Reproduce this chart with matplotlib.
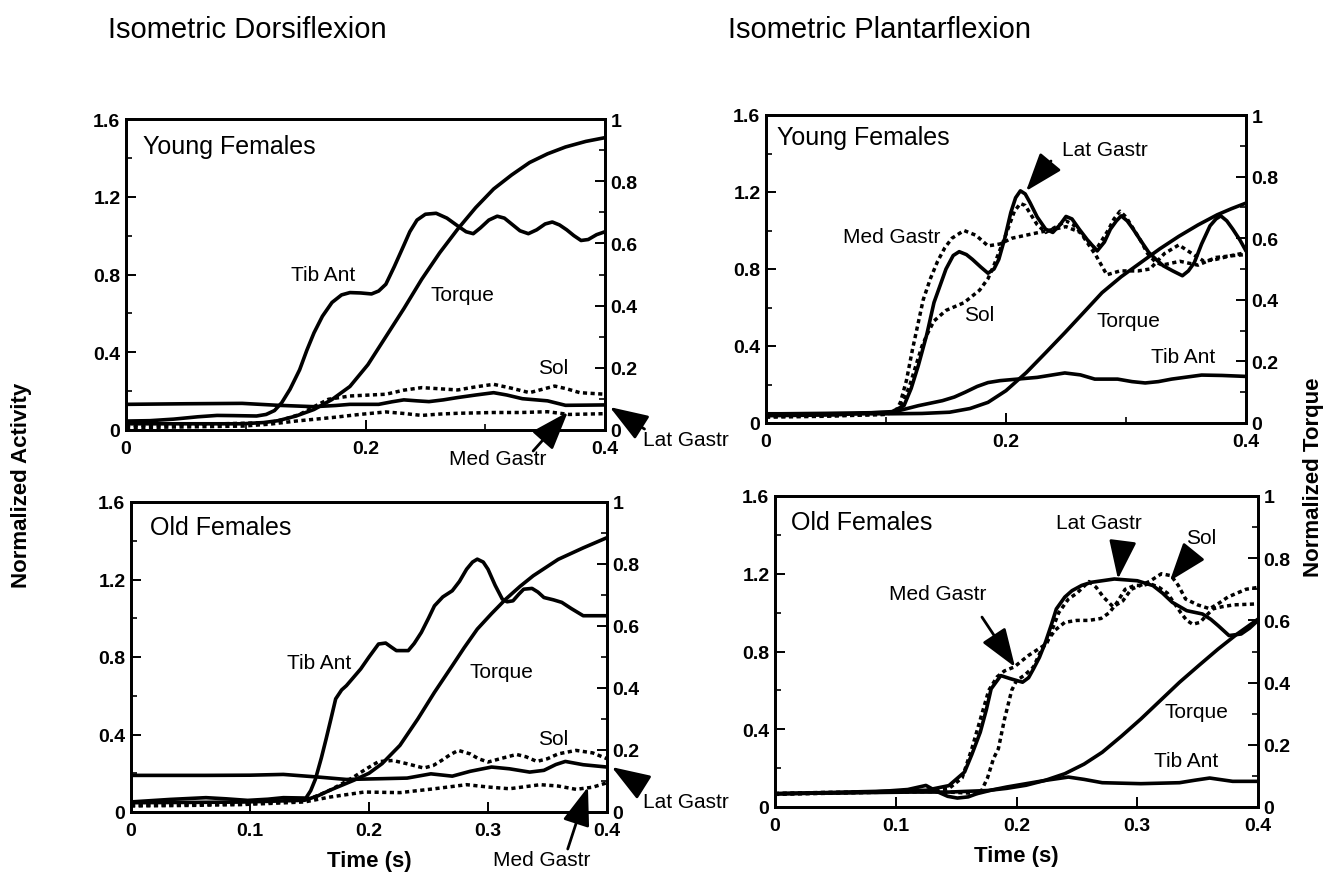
import numpy as np
import matplotlib.pyplot as plt
from matplotlib.ticker import MultipleLocator, FuncFormatter

plt.rcParams['font.family'] = ['Liberation Sans', 'DejaVu Sans']
plt.rcParams['font.weight'] = 'bold'

# values, (time [s], value)
# muscles on the left axis (normalized activity), torque on the right axis

# --- Isometric Dorsiflexion, young females
yd_tib_ant = [(0, 0.046), (0.02, 0.048), (0.04, 0.056), (0.06, 0.068), (0.076, 0.075), (0.09, 0.074),
              (0.109, 0.072), (0.117, 0.08), (0.124, 0.1), (0.13, 0.14), (0.137, 0.21), (0.145, 0.31),
              (0.151, 0.41), (0.157, 0.5), (0.164, 0.585), (0.172, 0.656), (0.18, 0.695), (0.187, 0.707),
              (0.196, 0.705), (0.205, 0.70), (0.211, 0.715), (0.217, 0.75), (0.224, 0.84), (0.232, 0.95),
              (0.237, 1.02), (0.243, 1.08), (0.25, 1.11), (0.259, 1.115), (0.268, 1.09), (0.277, 1.05),
              (0.284, 1.02), (0.29, 1.01), (0.296, 1.04), (0.303, 1.08), (0.31, 1.10), (0.316, 1.09),
              (0.322, 1.06), (0.329, 1.025), (0.336, 1.01), (0.343, 1.03), (0.35, 1.06), (0.356, 1.07),
              (0.362, 1.055), (0.368, 1.03), (0.374, 1.0), (0.38, 0.975), (0.386, 0.98), (0.393, 1.005),
              (0.4, 1.02)]
yd_lat_gastr = [(0, 0.132), (0.05, 0.135), (0.097, 0.137), (0.127, 0.127), (0.157, 0.12), (0.175, 0.126),
                (0.187, 0.132), (0.211, 0.132), (0.222, 0.145), (0.232, 0.155), (0.243, 0.15), (0.253, 0.146),
                (0.265, 0.155), (0.277, 0.167), (0.292, 0.18), (0.307, 0.192), (0.318, 0.18), (0.331, 0.161),
                (0.352, 0.15), (0.367, 0.127), (0.385, 0.128), (0.4, 0.129)]
yd_sol = [(0, 0.024), (0.067, 0.03), (0.12, 0.038), (0.132, 0.055), (0.145, 0.08), (0.157, 0.12),
          (0.169, 0.158), (0.187, 0.175), (0.217, 0.184), (0.232, 0.205), (0.247, 0.218), (0.262, 0.212),
          (0.277, 0.206), (0.292, 0.222), (0.307, 0.235), (0.322, 0.215), (0.337, 0.192), (0.348, 0.21),
          (0.358, 0.226), (0.368, 0.212), (0.379, 0.192), (0.4, 0.184)]
yd_med_gastr = [(0, 0.012), (0.05, 0.016), (0.097, 0.02), (0.12, 0.03), (0.142, 0.046), (0.172, 0.064),
                (0.195, 0.08), (0.217, 0.093), (0.232, 0.085), (0.247, 0.075), (0.262, 0.082), (0.277, 0.086),
                (0.307, 0.09), (0.33, 0.09), (0.352, 0.094), (0.37, 0.08), (0.4, 0.084)]
yd_torque = [(0, 0.02), (0.05, 0.02), (0.097, 0.02), (0.115, 0.024), (0.127, 0.03), (0.142, 0.045),
             (0.157, 0.066), (0.172, 0.098), (0.187, 0.14), (0.202, 0.21), (0.217, 0.30), (0.232, 0.39),
             (0.247, 0.485), (0.262, 0.57), (0.277, 0.646), (0.292, 0.715), (0.307, 0.775), (0.322, 0.82),
             (0.337, 0.86), (0.352, 0.888), (0.367, 0.91), (0.384, 0.928), (0.4, 0.94)]

# --- Isometric Plantarflexion, young females
yp_lat_gastr = [(0, 0.038), (0.057, 0.042), (0.105, 0.059), (0.115, 0.09), (0.121, 0.18), (0.127, 0.30),
                (0.134, 0.46), (0.14, 0.626), (0.15, 0.80), (0.156, 0.87), (0.161, 0.89), (0.167, 0.875),
                (0.172, 0.85), (0.179, 0.81), (0.185, 0.778), (0.19, 0.80), (0.194, 0.85), (0.199, 0.96),
                (0.204, 1.093), (0.208, 1.17), (0.212, 1.206), (0.216, 1.19), (0.22, 1.145), (0.226, 1.07),
                (0.233, 1.007), (0.239, 0.99), (0.245, 1.03), (0.25, 1.073), (0.255, 1.06), (0.261, 1.007),
                (0.268, 0.95), (0.276, 0.894), (0.282, 0.94), (0.287, 1.007), (0.292, 1.05), (0.296, 1.076),
                (0.301, 1.05), (0.306, 1.007), (0.312, 0.95), (0.319, 0.886), (0.325, 0.85), (0.331, 0.817),
                (0.339, 0.79), (0.347, 0.765), (0.352, 0.79), (0.357, 0.834), (0.363, 0.93), (0.37, 1.024),
                (0.375, 1.06), (0.379, 1.076), (0.384, 1.05), (0.389, 1.007), (0.395, 0.95), (0.4, 0.894)]
yp_med_gastr = [(0, 0.03), (0.05, 0.035), (0.1, 0.045), (0.108, 0.06), (0.112, 0.107), (0.117, 0.22),
                (0.122, 0.38), (0.131, 0.64), (0.137, 0.75), (0.143, 0.84), (0.149, 0.91), (0.155, 0.96),
                (0.165, 1.0), (0.175, 0.975), (0.185, 0.92), (0.195, 0.93), (0.205, 0.96), (0.22, 0.98),
                (0.235, 1.0), (0.25, 1.02), (0.262, 0.99), (0.275, 0.87), (0.284, 0.77), (0.295, 0.79),
                (0.31, 0.79), (0.32, 0.80), (0.332, 0.88), (0.344, 0.925), (0.355, 0.88), (0.365, 0.84),
                (0.375, 0.85), (0.388, 0.87), (0.4, 0.885)]
yp_sol = [(0, 0.035), (0.05, 0.038), (0.1, 0.045), (0.11, 0.07), (0.115, 0.12), (0.12, 0.2), (0.125, 0.3),
          (0.13, 0.4), (0.135, 0.47), (0.14, 0.53), (0.15, 0.585), (0.165, 0.625), (0.178, 0.69),
          (0.185, 0.75), (0.19, 0.82), (0.195, 0.9), (0.2, 0.98), (0.207, 1.1), (0.212, 1.14), (0.216, 1.13),
          (0.22, 1.09), (0.226, 1.03), (0.233, 0.99), (0.242, 1.02), (0.25, 1.05), (0.256, 1.03),
          (0.262, 0.99), (0.275, 0.9), (0.28, 0.95), (0.285, 1.0), (0.29, 1.06), (0.295, 1.1), (0.3, 1.07),
          (0.305, 1.02), (0.312, 0.95), (0.318, 0.88), (0.324, 0.84), (0.33, 0.82), (0.345, 0.84),
          (0.36, 0.82), (0.375, 0.86), (0.39, 0.87), (0.4, 0.875)]
yp_tib_ant = [(0, 0.047), (0.05, 0.05), (0.105, 0.055), (0.127, 0.09), (0.147, 0.116), (0.157, 0.135),
              (0.166, 0.16), (0.176, 0.19), (0.185, 0.21), (0.195, 0.22), (0.204, 0.225), (0.226, 0.237),
              (0.249, 0.26), (0.262, 0.25), (0.274, 0.228), (0.293, 0.228), (0.305, 0.215), (0.316, 0.208),
              (0.327, 0.215), (0.338, 0.228), (0.363, 0.249), (0.38, 0.247), (0.4, 0.242)]
yp_torque = [(0, 0.03), (0.05, 0.03), (0.105, 0.03), (0.13, 0.031), (0.153, 0.035), (0.17, 0.047),
             (0.185, 0.067), (0.2, 0.105), (0.217, 0.164), (0.233, 0.228), (0.249, 0.293), (0.265, 0.36),
             (0.28, 0.423), (0.296, 0.475), (0.312, 0.52), (0.328, 0.565), (0.344, 0.606), (0.36, 0.643),
             (0.376, 0.676), (0.388, 0.696), (0.4, 0.714)]

# --- Isometric Dorsiflexion, old females
od_tib_ant = [(0, 0.052), (0.033, 0.065), (0.063, 0.074), (0.08, 0.068), (0.098, 0.06), (0.115, 0.066),
              (0.128, 0.074), (0.147, 0.072), (0.151, 0.11), (0.155, 0.17), (0.16, 0.28), (0.164, 0.378),
              (0.168, 0.48), (0.172, 0.584), (0.177, 0.63), (0.181, 0.652), (0.187, 0.695), (0.193, 0.738),
              (0.2, 0.8), (0.208, 0.867), (0.214, 0.872), (0.219, 0.85), (0.223, 0.833), (0.233, 0.833),
              (0.238, 0.87), (0.244, 0.927), (0.25, 1.0), (0.255, 1.064), (0.262, 1.11), (0.27, 1.142),
              (0.276, 1.19), (0.282, 1.253), (0.287, 1.29), (0.291, 1.305), (0.296, 1.29), (0.30, 1.253),
              (0.306, 1.17), (0.312, 1.099), (0.316, 1.085), (0.321, 1.09), (0.326, 1.125), (0.33, 1.15),
              (0.337, 1.154), (0.342, 1.135), (0.347, 1.107), (0.355, 1.095), (0.362, 1.082), (0.37, 1.05),
              (0.38, 1.013), (0.4, 1.013)]
od_lat_gastr = [(0, 0.189), (0.063, 0.189), (0.1, 0.19), (0.128, 0.194), (0.158, 0.18), (0.181, 0.168),
                (0.211, 0.172), (0.232, 0.175), (0.252, 0.197), (0.27, 0.185), (0.285, 0.21), (0.303, 0.232),
                (0.318, 0.223), (0.335, 0.206), (0.347, 0.215), (0.357, 0.245), (0.365, 0.261),
                (0.38, 0.244), (0.4, 0.232)]
od_sol = [(0, 0.034), (0.05, 0.038), (0.092, 0.043), (0.12, 0.05), (0.146, 0.06), (0.157, 0.085),
          (0.167, 0.112), (0.177, 0.145), (0.187, 0.18), (0.197, 0.22), (0.208, 0.26), (0.22, 0.266),
          (0.232, 0.249), (0.246, 0.227), (0.254, 0.24), (0.261, 0.266), (0.268, 0.295), (0.275, 0.318),
          (0.285, 0.30), (0.292, 0.275), (0.30, 0.258), (0.312, 0.278), (0.324, 0.297), (0.332, 0.285),
          (0.341, 0.261), (0.35, 0.275), (0.359, 0.30), (0.374, 0.318), (0.388, 0.305), (0.4, 0.275)]
od_med_gastr = [(0, 0.031), (0.05, 0.034), (0.092, 0.038), (0.12, 0.045), (0.146, 0.052), (0.167, 0.077),
                (0.196, 0.103), (0.226, 0.1), (0.255, 0.12), (0.282, 0.141), (0.30, 0.129), (0.318, 0.12),
                (0.344, 0.141), (0.359, 0.134), (0.374, 0.117), (0.388, 0.128), (0.4, 0.151)]
od_torque = [(0, 0.03), (0.05, 0.031), (0.092, 0.032), (0.12, 0.035), (0.146, 0.038), (0.157, 0.052),
             (0.167, 0.07), (0.187, 0.102), (0.2, 0.125), (0.211, 0.156), (0.226, 0.215), (0.241, 0.30),
             (0.255, 0.386), (0.27, 0.472), (0.28, 0.53), (0.291, 0.59), (0.303, 0.64), (0.315, 0.687),
             (0.327, 0.728), (0.338, 0.762), (0.359, 0.815), (0.38, 0.852), (0.4, 0.885)]

# --- Isometric Plantarflexion, old females
op_lat_gastr = [(0, 0.068), (0.04, 0.074), (0.081, 0.08), (0.125, 0.086), (0.144, 0.11), (0.157, 0.18),
                (0.163, 0.27), (0.17, 0.385), (0.175, 0.5), (0.179, 0.608), (0.187, 0.676), (0.195, 0.66),
                (0.205, 0.642), (0.21, 0.665), (0.214, 0.71), (0.219, 0.77), (0.224, 0.848), (0.229, 0.94),
                (0.233, 1.019), (0.24, 1.08), (0.246, 1.113), (0.254, 1.14), (0.262, 1.156), (0.281, 1.173),
                (0.30, 1.164), (0.313, 1.139), (0.321, 1.1), (0.329, 1.053), (0.341, 1.01), (0.354, 0.993),
                (0.361, 0.965), (0.367, 0.933), (0.376, 0.882), (0.386, 0.89), (0.393, 0.92), (0.4, 0.96)]
op_med_gastr = [(0, 0.07), (0.04, 0.075), (0.081, 0.078), (0.125, 0.08), (0.144, 0.095), (0.155, 0.15),
                (0.163, 0.3), (0.17, 0.45), (0.177, 0.6), (0.184, 0.67), (0.19, 0.7), (0.198, 0.72),
                (0.21, 0.78), (0.225, 0.84), (0.23, 0.92), (0.235, 1.0), (0.243, 1.07), (0.25, 1.1),
                (0.26, 1.16), (0.266, 1.13), (0.272, 1.08), (0.28, 1.03), (0.288, 1.06), (0.295, 1.12),
                (0.31, 1.16), (0.32, 1.2), (0.328, 1.19), (0.334, 1.14), (0.34, 1.07), (0.35, 1.04),
                (0.36, 1.02), (0.368, 1.05), (0.375, 1.08), (0.39, 1.12), (0.4, 1.13)]
op_sol = [(0, 0.065), (0.04, 0.07), (0.081, 0.075), (0.125, 0.08), (0.15, 0.075), (0.165, 0.07),
          (0.17, 0.07), (0.176, 0.15), (0.181, 0.25), (0.185, 0.3), (0.19, 0.45), (0.196, 0.6),
          (0.2, 0.65), (0.207, 0.68), (0.214, 0.72), (0.22, 0.8), (0.225, 0.85), (0.232, 0.91),
          (0.24, 0.95), (0.25, 0.96), (0.26, 0.96), (0.27, 0.97), (0.277, 1.0), (0.283, 1.05),
          (0.29, 1.12), (0.298, 1.14), (0.305, 1.14), (0.31, 1.15), (0.318, 1.13), (0.325, 1.1),
          (0.336, 1.0), (0.341, 0.96), (0.346, 0.94), (0.352, 0.95), (0.358, 0.99), (0.363, 1.02),
          (0.37, 1.03), (0.38, 1.04), (0.4, 1.045)]
op_tib_ant = [(0, 0.068), (0.04, 0.072), (0.081, 0.077), (0.11, 0.09), (0.125, 0.111), (0.135, 0.077),
              (0.143, 0.055), (0.151, 0.046), (0.16, 0.052), (0.167, 0.068), (0.18, 0.088), (0.192, 0.103),
              (0.208, 0.12), (0.224, 0.137), (0.243, 0.154), (0.256, 0.142), (0.271, 0.125), (0.303, 0.12),
              (0.335, 0.125), (0.348, 0.138), (0.36, 0.149), (0.37, 0.14), (0.379, 0.132), (0.4, 0.132)]
op_torque = [(0, 0.043), (0.05, 0.045), (0.113, 0.048), (0.144, 0.048), (0.176, 0.053), (0.192, 0.06),
             (0.208, 0.07), (0.224, 0.086), (0.24, 0.107), (0.256, 0.138), (0.271, 0.176), (0.287, 0.228),
             (0.303, 0.283), (0.319, 0.342), (0.335, 0.401), (0.351, 0.455), (0.367, 0.508),
             (0.383, 0.557), (0.4, 0.604)]

W, H = 1328, 878
fig = plt.figure(figsize=(W / 100, H / 100), dpi=100)

fmt = FuncFormatter(lambda v, p: '%g' % round(v, 3))
solid = dict(color='black', lw=2.6, solid_capstyle='round')
dotted = dict(color='black', lw=2.5, ls=(0, (1.2, 1.0)))
arrow = dict(arrowstyle='-|>,head_length=1.4,head_width=0.5', color='black', lw=2,
             mutation_scale=17, shrinkA=0, shrinkB=0)


def make_panel(box, muscles, torque, bottom_row):
    x0, y0, x1, y1 = box
    ax = fig.add_axes([x0 / W, 1 - y1 / H, (x1 - x0) / W, (y1 - y0) / H])
    for pts, dot in muscles:
        t, v = np.array(pts).T
        ax.plot(t, v, **(dotted if dot else solid))
    ax.set_xlim(0, 0.4)
    ax.set_ylim(0, 1.6)
    ax.yaxis.set_major_locator(MultipleLocator(0.4))
    ax.yaxis.set_minor_locator(MultipleLocator(0.2))
    if bottom_row:
        ax.xaxis.set_major_locator(MultipleLocator(0.1))
    else:
        ax.xaxis.set_major_locator(MultipleLocator(0.2))
        ax.xaxis.set_minor_locator(MultipleLocator(0.1))
    ax.xaxis.set_major_formatter(fmt)
    ax.yaxis.set_major_formatter(fmt)

    ax2 = ax.twinx()
    t, v = np.array(torque).T
    ax2.plot(t, v, **solid)
    ax2.set_ylim(0, 1)
    ax2.yaxis.set_major_locator(MultipleLocator(0.2))
    ax2.yaxis.set_minor_locator(MultipleLocator(0.1))
    ax2.yaxis.set_major_formatter(fmt)

    for a in (ax, ax2):
        a.tick_params(which='major', direction='in', length=7, width=1.4, labelsize=14, pad=4)
        a.tick_params(which='minor', direction='in', length=4, width=1.2)
        for s in a.spines.values():
            s.set_linewidth(2)
    ax.tick_params(axis='x', which='major', pad=7)
    # right-hand "0" sits a little higher, as in the original
    ax2.get_yticklabels()
    for tl in ax2.yaxis.get_major_ticks():
        tl.label2.set_verticalalignment('center_baseline')
    return ax


def label(ax, x, y, s):
    ax.text(x, y, s, fontsize=15, fontweight='normal', ha='center', va='center', clip_on=False)


def point(ax, tail, tip):
    ax.annotate('', xy=tip, xytext=tail, arrowprops=arrow, annotation_clip=False)


# Isometric Dorsiflexion, young
ax = make_panel((126, 120, 605, 431),
                [(yd_tib_ant, False), (yd_lat_gastr, False), (yd_sol, True), (yd_med_gastr, True)],
                yd_torque, False)
ax.text(0.035, 0.913, 'Young Females', transform=ax.transAxes, fontsize=18, fontweight='normal',
        ha='left', va='center')
label(ax, 0.165, 0.80, 'Tib Ant')
label(ax, 0.281, 0.695, 'Torque')
label(ax, 0.357, 0.324, 'Sol')
ax.text(0.432, -0.05, 'Lat Gastr', fontsize=15, fontweight='normal', ha='left', va='center', clip_on=False)
point(ax, (0.433, 0.005), (0.404, 0.118))
label(ax, 0.31, -0.149, 'Med Gastr')
point(ax, (0.34, -0.108), (0.369, 0.093))

# Isometric Plantarflexion, young
ax = make_panel((766, 116, 1246, 424),
                [(yp_tib_ant, False), (yp_sol, True), (yp_med_gastr, True), (yp_lat_gastr, False)],
                yp_torque, False)
ax.text(0.023, 0.929, 'Young Females', transform=ax.transAxes, fontsize=18, fontweight='normal',
        ha='left', va='center')
label(ax, 0.2825, 1.423, 'Lat Gastr')
point(ax, (0.2375, 1.361), (0.2167, 1.205))
label(ax, 0.105, 0.971, 'Med Gastr')
label(ax, 0.1775, 0.566, 'Sol')
label(ax, 0.3017, 0.53, 'Torque')
label(ax, 0.3475, 0.343, 'Tib Ant')

# Isometric Dorsiflexion, old
ax = make_panel((131, 503, 607, 813),
                [(od_tib_ant, False), (od_lat_gastr, False), (od_sol, True), (od_med_gastr, True)],
                od_torque, True)
ax.text(0.04, 0.919, 'Old Females', transform=ax.transAxes, fontsize=18, fontweight='normal',
        ha='left', va='center')
label(ax, 0.158, 0.774, 'Tib Ant')
label(ax, 0.311, 0.723, 'Torque')
label(ax, 0.3546, 0.377, 'Sol')
ax.text(0.43, 0.052, 'Lat Gastr', fontsize=15, fontweight='normal', ha='left', va='center', clip_on=False)
point(ax, (0.4294, 0.134), (0.404, 0.232))
label(ax, 0.345, -0.243, 'Med Gastr')
point(ax, (0.367, -0.191), (0.384, 0.129))
ax.set_xlabel('Time (s)', fontsize=16, fontweight='bold', labelpad=8)

# Isometric Plantarflexion, old
ax = make_panel((775, 497, 1258, 808),
                [(op_tib_ant, False), (op_sol, True), (op_med_gastr, True), (op_lat_gastr, False)],
                op_torque, True)
ax.text(0.033, 0.916, 'Old Females', transform=ax.transAxes, fontsize=18, fontweight='normal',
        ha='left', va='center')
label(ax, 0.268, 1.466, 'Lat Gastr')
point(ax, (0.2874, 1.338), (0.284, 1.173))
label(ax, 0.3528, 1.389, 'Sol')
point(ax, (0.3437, 1.291), (0.327, 1.163))
label(ax, 0.135, 1.096, 'Med Gastr')
point(ax, (0.1714, 0.977), (0.1988, 0.72))
label(ax, 0.3487, 0.489, 'Torque')
label(ax, 0.3404, 0.237, 'Tib Ant')
ax.set_xlabel('Time (s)', fontsize=16, fontweight='bold', labelpad=8)

fig.text(108 / W, 1 - 30 / H, 'Isometric Dorsiflexion', fontsize=21, fontweight='normal',
         ha='left', va='center')
fig.text(728 / W, 1 - 30 / H, 'Isometric Plantarflexion', fontsize=21, fontweight='normal',
         ha='left', va='center')
fig.text(22 / W, 1 - 485 / H, 'Normalized Activity', fontsize=16, rotation=90, ha='center', va='center')
fig.text(1313 / W, 1 - 477 / H, 'Normalized Torque', fontsize=16, rotation=90, ha='center', va='center')

fig.savefig('out.png', dpi=100)
